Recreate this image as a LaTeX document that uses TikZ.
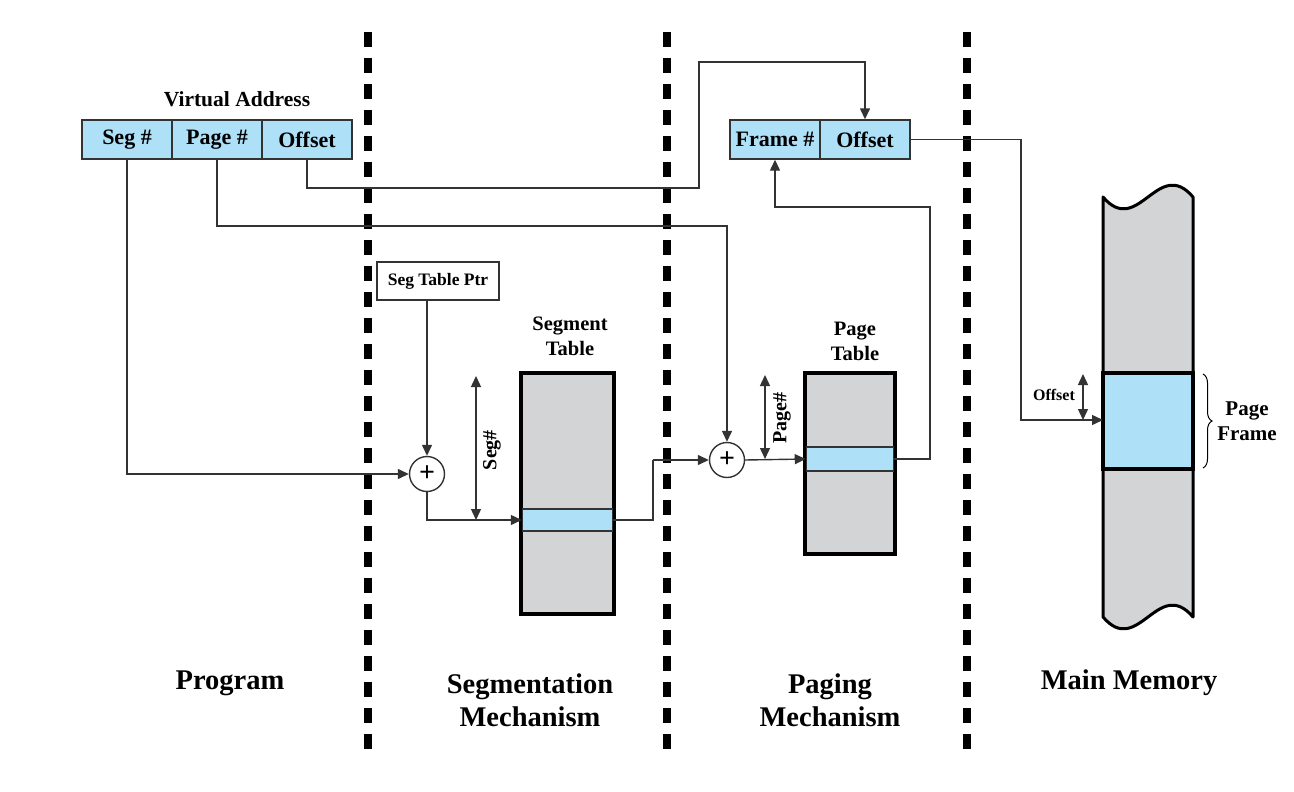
\documentclass[tikz,border=0pt]{standalone}
\usepackage{fontspec}
\setmainfont{Liberation Serif}
\usetikzlibrary{arrows.meta,calc,decorations.pathreplacing}
\definecolor{lblue}{HTML}{AEE0F8}
\definecolor{tgray}{HTML}{D3D4D6}
\definecolor{bdr}{HTML}{333333}
\begin{document}
\begin{tikzpicture}[x=1pt,y=-1pt,
  every node/.style={font=\bfseries},
  fieldbox/.style={draw=bdr,line width=1.4pt,fill=lblue,minimum width=90pt,minimum height=39pt,inner sep=0pt,font=\fontsize{22}{24}\selectfont\bfseries},
  tablebox/.style={draw=black,line width=4pt,fill=tgray,inner sep=0pt},
  bandbox/.style={draw=bdr,line width=1.5pt,fill=lblue,inner sep=0pt},
  adder/.style={circle,draw=bdr,line width=1.4pt,fill=white,minimum size=35pt,inner sep=0pt,font=\fontsize{28}{28}\selectfont\bfseries},
  conn/.style={draw=bdr,line width=1.4pt},
  arr/.style={conn,-{Triangle[length=11pt,width=10pt]}},
  darr/.style={conn,{Triangle[length=11pt,width=10pt]}-{Triangle[length=11pt,width=10pt]}},
  divider/.style={line width=8pt,dash pattern=on 15pt off 11pt},
  title/.style={font=\fontsize{28.5}{33}\selectfont\bfseries,align=center},
  small/.style={font=\fontsize{20.5}{25}\selectfont\bfseries,align=center}]
\useasboundingbox (0,0) rectangle (1294,792);

% dividers
\draw[divider] (368,32) -- (368,758);
\draw[divider] (667,32) -- (667,758);
\draw[divider] (967,32) -- (967,758);

% virtual address
\node[font=\fontsize{21.5}{24}\selectfont\bfseries] (va) at (237,99) {Virtual Address};
\node[fieldbox] (seg) at (127,139.5) {Seg \#};
\node[fieldbox] (pg) at (217,139.5) {Page \#};
\node[fieldbox] (off) at (307,139.5) {Offset};

% physical address
\node[fieldbox] (frm) at (775,139.5) {Frame \#};
\node[fieldbox] (foff) at (865,139.5) {Offset};

% seg table ptr
\node[draw=bdr,line width=1.4pt,fill=white,minimum width=122pt,minimum height=38pt,inner sep=0pt,font=\fontsize{17.5}{20}\selectfont\bfseries] (stp) at (438,281) {Seg Table Ptr};

% adders
\node[adder] (plus1) at (427,474) {+};
\node[adder] (plus2) at (727,460) {+};

% segment table
\node[small] (segl) at (570,336) {Segment\\Table};
\node[tablebox,minimum width=93pt,minimum height=241pt] (segtab) at (567.5,493.5) {};
\node[bandbox,minimum width=90pt,minimum height=22pt] (segband) at (567.5,520) {};

% page table
\node[small] (pagel) at (855,341) {Page\\Table};
\node[tablebox,minimum width=90pt,minimum height=181pt] (pagetab) at (850,463.5) {};
\node[bandbox,minimum width=87pt,minimum height=24pt] (pageband) at (850,459) {};

% main memory
\path[fill=tgray] (1103,197) .. controls (1138,238) and (1158,156) .. (1193,197)
  -- (1193,617) .. controls (1158,576) and (1138,658) .. (1103,617) -- cycle;
\draw[line width=3pt,line join=round] (1103,197) .. controls (1138,238) and (1158,156) .. (1193,197)
  -- (1193,617) .. controls (1158,576) and (1138,658) .. (1103,617) -- cycle;
\node[draw=black,line width=4pt,fill=lblue,minimum width=90pt,minimum height=96pt,inner sep=0pt] (pf) at (1148,421) {};
\coordinate (mem) at (1103,420);
\draw[decorate,decoration={brace,amplitude=9pt},line width=1pt] (1203,374) -- (1203,468);
\node[font=\fontsize{21}{25}\selectfont\bfseries,align=center] (pfl) at (1247,421) {Page\\Frame};

% connectors
\draw[arr] (seg.south) |- (plus1.west);
\draw[arr] (pg.south) -- (pg.south |- 0,226) -| (plus2.north);
\draw[arr] (off.south) -- (off.south |- 0,188) -- (699,188) -- (699,62) -| (foff.north);
\draw[arr] (stp.south -| plus1.north) -- (plus1.north);
\draw[arr] (plus1.south) |- (segband.west);
\draw[darr] (476,376) -- (476,520);
\node[rotate=90,font=\fontsize{20}{22}\selectfont\bfseries] (segn) at (492,450) {Seg\#};
\draw[conn] (segband.east) -- (653,520) -- (653,460);
\draw[arr] (653,460) -- (plus2.west);
\draw[arr] (plus2.east) -- (pageband.west);
\draw[darr] (765,375) -- (765,459);
\node[rotate=90,font=\fontsize{20}{22}\selectfont\bfseries] (pgn) at (782,418) {Page\#};
\draw[arr] (pageband.east) -- (930,459) -- (930,207) -| (frm.south);
\draw[arr] (foff.east) -- (1021,139.5) |- (mem);
\draw[darr] (1083,374) -- (1083,420);
\node[font=\fontsize{16}{18}\selectfont\bfseries] (offl) at (1054,395) {Offset};

% bottom labels
\node[title] (prog) at (230,683) {Program};
\node[title] (segm) at (530,700) {Segmentation\\Mechanism};
\node[title] (pagm) at (830,700) {Paging\\Mechanism};
\node[title] (mm) at (1129,683) {Main Memory};
\end{tikzpicture}
\end{document}
